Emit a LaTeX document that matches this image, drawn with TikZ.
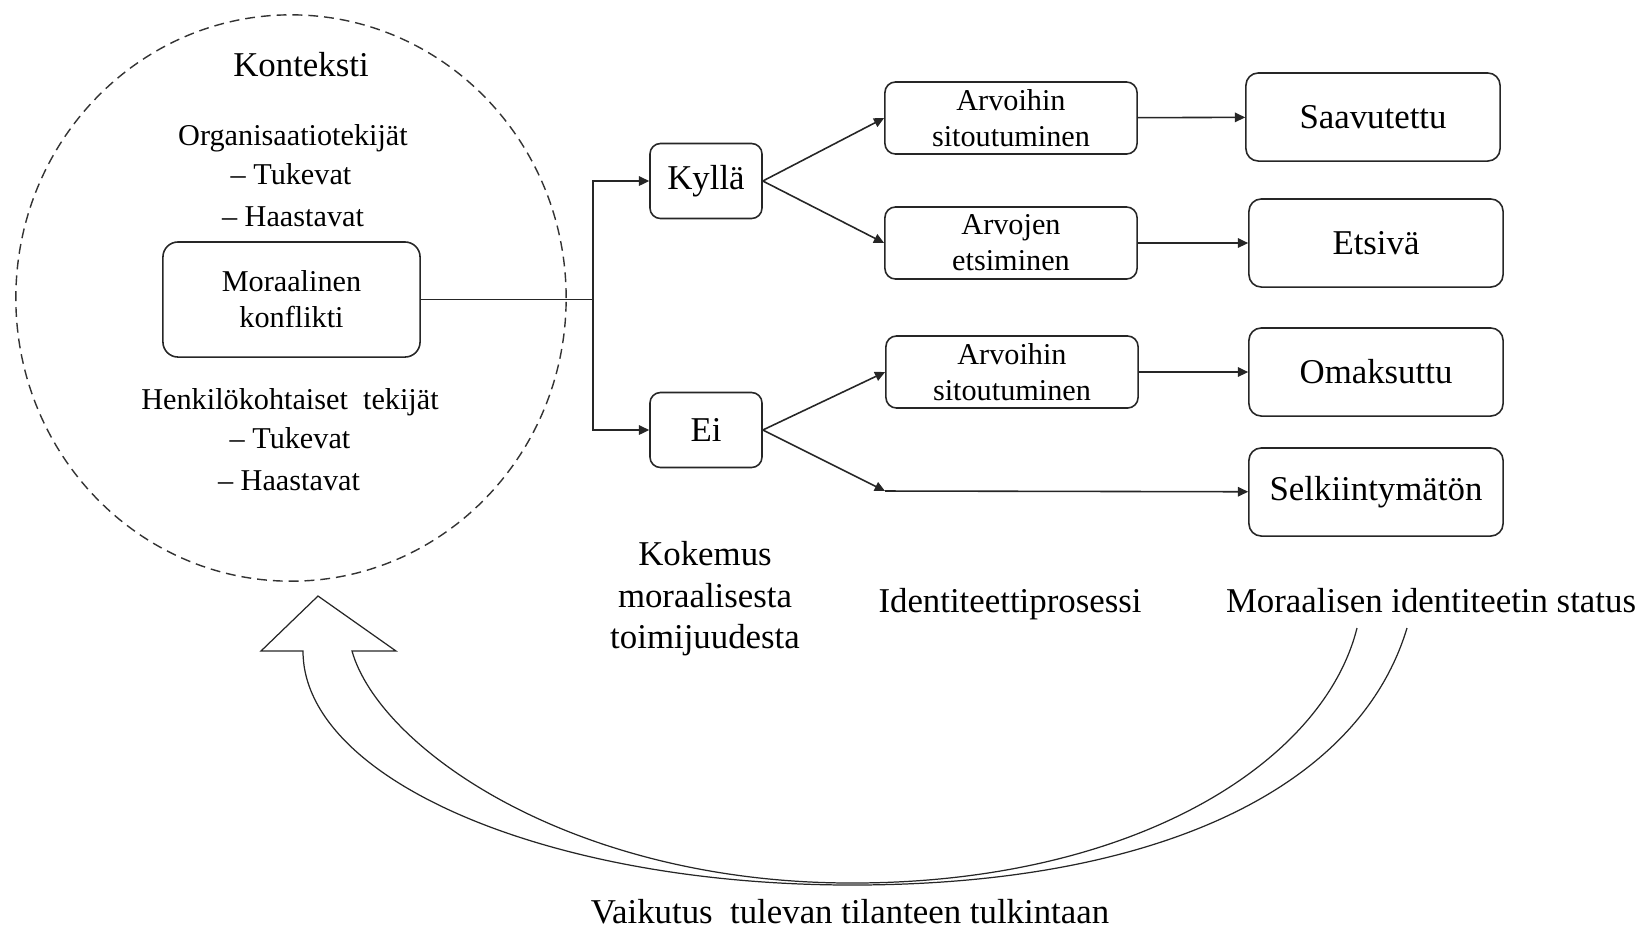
\documentclass[tikz,border=0pt]{standalone}
\usepackage{fontspec}
\setmainfont{LiberationSerif}[Extension=.ttf, UprightFont=*-Regular,
  BoldFont=*-Bold, ItalicFont=*-Italic, BoldItalicFont=*-BoldItalic]
\usetikzlibrary{arrows.meta,positioning,calc}

\newcommand{\smallfnt}{\fontsize{8.6pt}{10.2pt}\selectfont}
\newcommand{\bigfnt}{\fontsize{9.9pt}{11.8pt}\selectfont}

\begin{document}
\begin{tikzpicture}[
    x=0.01cm, y=-0.01cm,
    box/.style={rectangle, draw=black!85, line width=0.45pt,
      inner sep=0pt, text centered, align=center},
    conflict/.style={box, minimum width=2.57cm, minimum height=1.15cm,
      rounded corners=4.3pt, font=\smallfnt},
    answer/.style={box, minimum width=1.12cm, minimum height=0.75cm,
      rounded corners=3pt, font=\bigfnt},
    process/.style={box, minimum width=2.52cm, minimum height=0.72cm,
      rounded corners=3pt, font=\smallfnt},
    status/.style={box, minimum width=2.54cm, minimum height=0.88cm,
      rounded corners=3.5pt, font=\bigfnt},
    heading/.style={font=\bigfnt, align=center, inner sep=0pt},
    factor/.style={font=\smallfnt, anchor=base, inner sep=0pt},
    arr/.style={-{Triangle[length=2.9pt, width=2.7pt]}, line width=0.45pt, black!85},
    hollow/.style={line width=0.35pt, black!85},
  ]
    \useasboundingbox (0,0) rectangle (1648,929);

    % Context circle
    \draw[black!80, line width=0.4pt, dash pattern=on 2.8pt off 1.7pt]
      (291,298) ellipse [x radius=2.75cm, y radius=2.83cm];
    \node[heading, anchor=base] (konteksti) at (301,76) {Konteksti};
    \node[factor] (org) at (293,145) {Organisaatiotekijät};
    \node[factor] (org1) at (291,184) {– Tukevat};
    \node[factor] (org2) at (293,226) {– Haastavat};
    \node[conflict] (moral) at (291.5,299.5) {Moraalinen\\konflikti};
    \node[factor] (henk) at (290,409) {Henkilökohtaiset\ \ tekijät};
    \node[factor] (henk1) at (290,448) {– Tukevat};
    \node[factor] (henk2) at (289,490) {– Haastavat};

    % Experience
    \node[answer] (kylla) at (706,181) {Kyllä};
    \node[answer] (ei) at (706,430) {Ei};
    \coordinate (split) at (593,299.5);

    % Identity process
    \node[process] (arvo1) at (1011,118) {Arvoihin\\sitoutuminen};
    \node[process] (etsi) at (1011,243) {Arvojen\\etsiminen};
    \node[process] (arvo2) at (1012,372) {Arvoihin\\sitoutuminen};
    \coordinate (selkin) at (885,491);

    % Status
    \node[status] (saav) at (1373,117) {Saavutettu};
    \node[status] (etsiva) at (1376,243) {Etsivä};
    \node[status] (omak) at (1376,372) {Omaksuttu};
    \node[status] (selk) at (1376,492) {Selkiintymätön};

    % Column captions
    \node[heading] (kokemus) at (705,599) {Kokemus\\moraalisesta\\toimijuudesta};
    \node[heading, anchor=base] (prosessi) at (1010,612) {Identiteettiprosessi};
    \node[heading, anchor=base] (tila) at (1431,612) {Moraalisen identiteetin status};
    \node[heading, anchor=base] (vaikutus) at (850,923) {Vaikutus\ \ tulevan tilanteen tulkintaan};

    % Arrows
    \draw[line width=0.45pt, black!85] (moral) -- (split);
    \draw[arr] (split) |- (kylla);
    \draw[arr] (split) |- (ei);
    \draw[arr] (kylla.east) -- (arvo1.west);
    \draw[arr] (kylla.east) -- (etsi.west);
    \draw[arr] (ei.east) -- (arvo2.west);
    \draw[arr] (ei.east) -- (selkin);
    \draw[arr] (selkin) -- (selk);
    \draw[arr] (arvo1) -- (saav);
    \draw[arr] (etsi) -- (etsiva);
    \draw[arr] (arvo2) -- (omak);

    % Feedback arrow
    \draw[hollow] (1357,628) .. controls (1323,764) and (1132,883) .. (852,883)
      .. controls (570,883) and (379,747) .. (352,651)
      -- (396,651) -- (318,596) -- (261,651) -- (303,651)
      .. controls (303,779) and (546,885) .. (852,885)
      .. controls (1152,885) and (1358,791) .. (1407,628);
  \end{tikzpicture}
\end{document}
